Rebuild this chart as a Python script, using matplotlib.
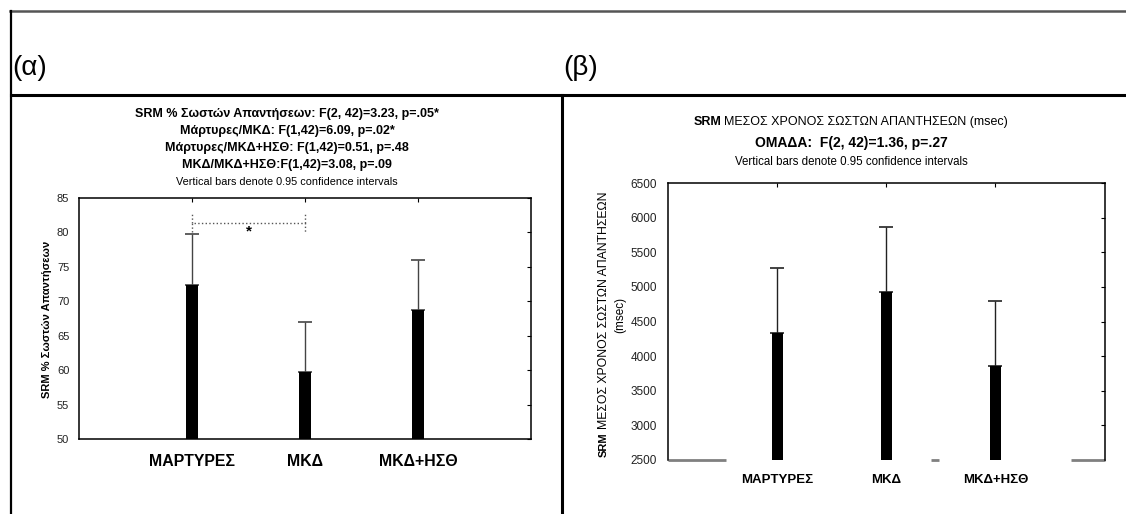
import numpy as np
import matplotlib
matplotlib.use("Agg")
import matplotlib.pyplot as plt
from matplotlib.lines import Line2D

plt.rcParams['font.family'] = ['Liberation Sans', 'DejaVu Sans']

W, H = 1126, 514

groups = ['ΜΑΡΤΥΡΕΣ', 'ΜΚΔ', 'ΜΚΔ+ΗΣΘ']

# (a) % correct responses
acc_mean = [72.3, 59.8, 68.7]
acc_upper = [79.7, 67.0, 76.0]
acc_ticks = [50, 55, 60, 65, 70, 75, 80, 85]

# (b) mean time of correct responses (msec)
rt_mean = [4340, 4930, 3855]
rt_upper = [5275, 5870, 4790]
rt_ticks = [2500, 3000, 3500, 4000, 4500, 5000, 5500, 6000, 6500]

left_titles = ['SRM % Σωστών Απαντήσεων: F(2, 42)=3.23, p=.05*',
               'Μάρτυρες/ΜΚΔ: F(1,42)=6.09, p=.02*',
               'Μάρτυρες/ΜΚΔ+ΗΣΘ: F(1,42)=0.51, p=.48',
               'ΜΚΔ/ΜΚΔ+ΗΣΘ:F(1,42)=3.08, p=.09']
note = 'Vertical bars denote 0.95 confidence intervals'


def fx(px):
    return px / W


def fy(py):
    return 1 - py / H


fig = plt.figure(figsize=(W / 100, H / 100), dpi=100)

# frame lines of the table
for xs, ys, c, lw in [([10, W], [11, 11], '#555555', 1.8),
                      ([11, W], [95, 95], 'black', 2.2),
                      ([11, 11], [11, H], 'black', 1.6),
                      ([562, 562], [95, H], 'black', 2.2)]:
    fig.add_artist(Line2D([fx(x) for x in xs], [fy(y) for y in ys],
                          color=c, lw=lw, transform=fig.transFigure))

fig.text(fx(12), fy(68), '(α)', fontsize=20, ha='left', va='center')
fig.text(fx(563), fy(68), '(β)', fontsize=20, ha='left', va='center')

x = np.arange(1, len(groups) + 1)

# ---- panel (a)
ax1 = fig.add_axes([fx(79), fy(439), fx(531) - fx(79), fy(198) - fy(439)])
ax1.bar(x, acc_mean, width=0.1, color='black', zorder=3)
ax1.errorbar(x, acc_mean,
             yerr=[np.zeros(len(x)), np.array(acc_upper) - np.array(acc_mean)],
             fmt='none', ecolor='#444444', elinewidth=1, capsize=5, capthick=1.2,
             zorder=2)
ax1.set_xlim(0, 4)
ax1.set_ylim(50, 85)
ax1.set_yticks(acc_ticks)
ax1.set_xticks(x)
ax1.set_xticklabels(groups, fontsize=11.4, fontweight='bold')
ax1.tick_params(axis='x', bottom=False, top=True, direction='in', length=3, pad=11)
ax1.tick_params(axis='y', left=False, right=True, direction='in', length=3,
                labelsize=8, pad=7, labelcolor='#222222')
for s in ax1.spines.values():
    s.set_linewidth(1.1)

# significance bracket between groups 1 and 2
ax1.plot([x[0], x[0], x[1], x[1]], [80.0, 81.3, 81.3, 80.0], ls=':', color='#555555', lw=1)
ax1.plot([x[0], x[0]], [81.3, 82.7], ls=':', color='#555555', lw=1)
ax1.plot([x[1], x[1]], [81.3, 82.7], ls=':', color='#555555', lw=1)
ax1.text((x[0] + x[1]) / 2, 80.2, '*', ha='center', va='center', fontsize=11, fontweight='bold')

for i, t in enumerate(left_titles):
    fig.text(fx(287), fy(114 + 17 * i), t, ha='center', va='center',
             fontsize=9, fontweight='bold')
fig.text(fx(287), fy(182), note, ha='center', va='center', fontsize=7.8)
fig.text(fx(47), fy(319), 'SRM % Σωστών Απαντήσεων', rotation=90,
         ha='center', va='center', fontsize=8, fontweight='bold')

# ---- panel (b)
ax2 = fig.add_axes([fx(668), fy(460), fx(1104.5) - fx(668), fy(183) - fy(460)])
ax2.bar(x, rt_mean, width=0.1, color='black', zorder=3)
ax2.errorbar(x, rt_mean,
             yerr=[np.zeros(len(x)), np.array(rt_upper) - np.array(rt_mean)],
             fmt='none', ecolor='#222222', elinewidth=1, capsize=5, capthick=1.2,
             zorder=2)
ax2.set_xlim(0, 4)
ax2.set_ylim(2500, 6500)
ax2.set_yticks(rt_ticks)
ax2.set_xticks(x)
ax2.set_xticklabels(groups, fontsize=9.5, fontweight='bold')
ax2.tick_params(axis='x', bottom=False, top=True, direction='in', length=3, pad=10)
ax2.tick_params(axis='y', left=False, right=True, direction='in', length=3,
                labelsize=8.5, pad=8, labelcolor='#222222')
ax2.spines['bottom'].set_visible(False)
for s in ['left', 'top', 'right']:
    ax2.spines[s].set_linewidth(1.1)
# broken grey baseline
for a, b in [(0, 0.53), (2.41, 2.48), (3.69, 4.0)]:
    ax2.plot([a, b], [2500, 2500], color='#808080', lw=2, clip_on=False,
             solid_capstyle='butt')

fig.text(fx(722), fy(125), 'SRM', ha='right', va='baseline', fontsize=9, fontweight='bold')
fig.text(fx(724), fy(125), 'ΜΕΣΟΣ ΧΡΟΝΟΣ ΣΩΣΤΩΝ ΑΠΑΝΤΗΣΕΩΝ (msec)', ha='left',
         va='baseline', fontsize=9)
fig.text(fx(851), fy(143), 'ΟΜΑΔΑ:  F(2, 42)=1.36, p=.27', ha='center', va='center',
         fontsize=10, fontweight='bold')
fig.text(fx(851), fy(162), note, ha='center', va='center', fontsize=8.3)

fig.text(fx(604), fy(432), 'SRM', rotation=90, rotation_mode='anchor',
         ha='right', va='center', fontsize=8, fontweight='bold')
fig.text(fx(604), fy(429), 'ΜΕΣΟΣ ΧΡΟΝΟΣ ΣΩΣΤΩΝ ΑΠΑΝΤΗΣΕΩΝ', rotation=90,
         rotation_mode='anchor', ha='left', va='center', fontsize=8.8)
fig.text(fx(620), fy(315), '(msec)', rotation=90, ha='center', va='center', fontsize=8.5)

fig.savefig('out.png', dpi=100)
